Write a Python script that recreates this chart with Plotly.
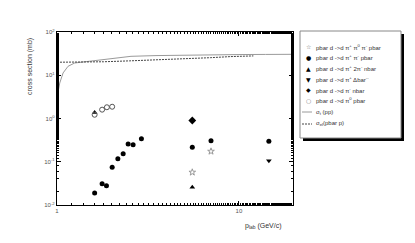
import plotly.graph_objects as go

# ---------------- data ----------------
p_pipi0pi = [5.54, 7.02]
s_pipi0pi = [0.057, 0.174]

p_pipi = [1.61, 1.77, 1.87, 2.01, 2.16, 2.31, 2.46, 2.62, 2.91, 5.54, 7.02, 14.6]
s_pipi = [0.019, 0.031, 0.028, 0.075, 0.118, 0.153, 0.257, 0.248, 0.341, 0.216, 0.307, 0.297]

p_pi2pi = [1.61, 5.54]
s_pi2pi = [1.38, 0.0257]

p_delta = [14.6]
s_delta = [0.106]

p_pinbar = [5.54]
s_pinbar = [0.90]

p_pi0 = [1.61, 1.77, 1.88, 2.01]
s_pi0 = [1.22, 1.60, 1.82, 1.87]

p_sigt = [1.0, 1.035, 1.08, 1.15, 1.25, 1.42, 1.64, 2.0, 2.55, 3.5, 5.0, 7.0, 10.0, 14.0, 20.0]
s_sigt = [3.0, 6.6, 11.3, 16.1, 19.2, 20.5, 22.5, 25.0, 27.4, 28.5, 29.3, 29.8, 30.1, 30.3, 30.5]

p_sigel = [1.0, 1.4, 1.8, 2.5, 3.5, 5.0, 7.0, 9.0, 12.0]
s_sigel = [20.0, 20.0, 20.5, 21.5, 22.5, 24.0, 25.5, 27.0, 28.0]

legend_labels = [
    "pbar d ->d π<sup>+</sup> π<sup>0</sup> π<sup>-</sup> pbar",
    "pbar d ->d π<sup>+</sup> π<sup>-</sup> pbar",
    "pbar d ->d π<sup>+</sup> 2π<sup>-</sup> nbar",
    "pbar d ->d π<sup>+</sup> Δbar<sup>--</sup>",
    "pbar d ->d π<sup>-</sup> nbar",
    "pbar d ->d π<sup>0</sup> pbar",
    "σ<sub>t</sub> (pp)",
    "σ<sub>el</sub>(pbar p)",
]
legend_symbols = ["☆", "●", "▲", "▼", "◆", "○", None, None]

y_tickvals = [0.01, 0.1, 1, 10, 100]
y_ticktext = ["10<sup>-2</sup>", "10<sup>-1</sup>", "10<sup>0</sup>", "10<sup>1</sup>", "10<sup>2</sup>"]
x_tickvals = [1, 10]
x_ticktext = ["1", "10"]

# ---------------- figure ----------------
W, H = 415, 243
L, R, T, B = 49, 130, 24, 46
PW, PH = W - L - R, H - T - B


def px2paper(x, y):
    return (x - L) / PW, (H - B - y) / PH


fig = go.Figure()

fig.add_trace(go.Scatter(x=p_sigt, y=s_sigt, mode="lines",
                         line=dict(color="#9a9a9a", width=1), showlegend=False))
fig.add_trace(go.Scatter(x=p_sigel, y=s_sigel, mode="lines",
                         line=dict(color="#444444", width=1, dash="2px,1px"), showlegend=False))

fig.add_trace(go.Scatter(x=p_pipi0pi, y=s_pipi0pi, mode="markers",
                         marker=dict(symbol="star-open", size=5, color="#999999", line=dict(width=1)),
                         showlegend=False))
fig.add_trace(go.Scatter(x=p_pipi, y=s_pipi, mode="markers",
                         marker=dict(symbol="circle", size=5, color="black"), showlegend=False))
fig.add_trace(go.Scatter(x=p_pi2pi, y=s_pi2pi, mode="markers",
                         marker=dict(symbol="triangle-up", size=5, color="black"), showlegend=False))
fig.add_trace(go.Scatter(x=p_delta, y=s_delta, mode="markers",
                         marker=dict(symbol="triangle-down", size=5, color="black"), showlegend=False))
fig.add_trace(go.Scatter(x=p_pinbar, y=s_pinbar, mode="markers",
                         marker=dict(symbol="diamond", size=6, color="black"), showlegend=False))
fig.add_trace(go.Scatter(x=p_pi0, y=s_pi0, mode="markers",
                         marker=dict(symbol="circle-open", size=5, color="#555555", line=dict(width=1)),
                         showlegend=False))

axis_common = dict(
    type="log", showgrid=False, zeroline=False, showline=True, linecolor="black",
    linewidth=1.3, mirror="ticks", ticks="inside", ticklen=4, tickcolor="black",
    tickfont=dict(family="Liberation Sans, Arial", size=6, color="#555555"),
    minor=dict(ticks="inside", ticklen=2, tickcolor="black", showgrid=False),
)

fig.update_xaxes(**axis_common, range=[0, 1.297], tickvals=x_tickvals, ticktext=x_ticktext)
fig.update_yaxes(**axis_common, range=[-2, 2], tickvals=y_tickvals, ticktext=y_ticktext)

shapes = []
# legend shadow and box
x0, y0 = px2paper(295, 26)
x1, y1 = px2paper(396, 133)
shapes.append(dict(type="rect", xref="paper", yref="paper", x0=x0, y0=y1, x1=x1, y1=y0,
                   fillcolor="black", line=dict(width=0)))
x0, y0 = px2paper(292, 23)
x1, y1 = px2paper(393, 130)
shapes.append(dict(type="rect", xref="paper", yref="paper", x0=x0, y0=y1, x1=x1, y1=y0,
                   fillcolor="white", line=dict(color="#888888", width=1)))

annotations = []
entry_y = [38.5, 49, 60, 71, 81.5, 92, 104, 116]
for lab, sym, yy in zip(legend_labels, legend_symbols, entry_y):
    tx, ty = px2paper(306, yy)
    annotations.append(dict(x=tx, y=ty, xref="paper", yref="paper", text=lab,
                            showarrow=False, xanchor="left", yanchor="middle",
                            font=dict(family="Liberation Sans, Arial", size=6, color="#333333")))
    if sym is not None:
        mx, my = px2paper(300, yy)
        col = "#777777" if sym in ("☆", "○") else "black"
        annotations.append(dict(x=mx, y=my, xref="paper", yref="paper", text=sym,
                                showarrow=False, xanchor="center", yanchor="middle",
                                font=dict(family="DejaVu Sans", size=6, color=col)))

lx0, ly = px2paper(294, entry_y[6])
lx1, _ = px2paper(304, entry_y[6])
shapes.append(dict(type="line", xref="paper", yref="paper", x0=lx0, x1=lx1, y0=ly, y1=ly,
                   line=dict(color="#9a9a9a", width=1)))
lx0, ly = px2paper(294, entry_y[7])
lx1, _ = px2paper(304, entry_y[7])
shapes.append(dict(type="line", xref="paper", yref="paper", x0=lx0, x1=lx1, y0=ly, y1=ly,
                   line=dict(color="#444444", width=1, dash="2px,1px")))

# axis titles
ax_, ay_ = px2paper(22, 59)
annotations.append(dict(x=ax_, y=ay_, xref="paper", yref="paper", text="cross section (mb)",
                        textangle=-90, showarrow=False, xanchor="center", yanchor="middle",
                        font=dict(family="Liberation Sans, Arial", size=7, color="#333333")))
bx, by = px2paper(255, 218)
annotations.append(dict(x=bx, y=by, xref="paper", yref="paper",
                        text="p<sub>lab</sub> (GeV/c)", showarrow=False,
                        xanchor="center", yanchor="middle",
                        font=dict(family="Liberation Sans, Arial", size=7, color="#333333")))

fig.update_layout(
    width=W, height=H, margin=dict(l=L, r=R, t=T, b=B, pad=0),
    paper_bgcolor="white", plot_bgcolor="white", showlegend=False,
    shapes=shapes, annotations=annotations,
)

fig.write_html("out.html")
